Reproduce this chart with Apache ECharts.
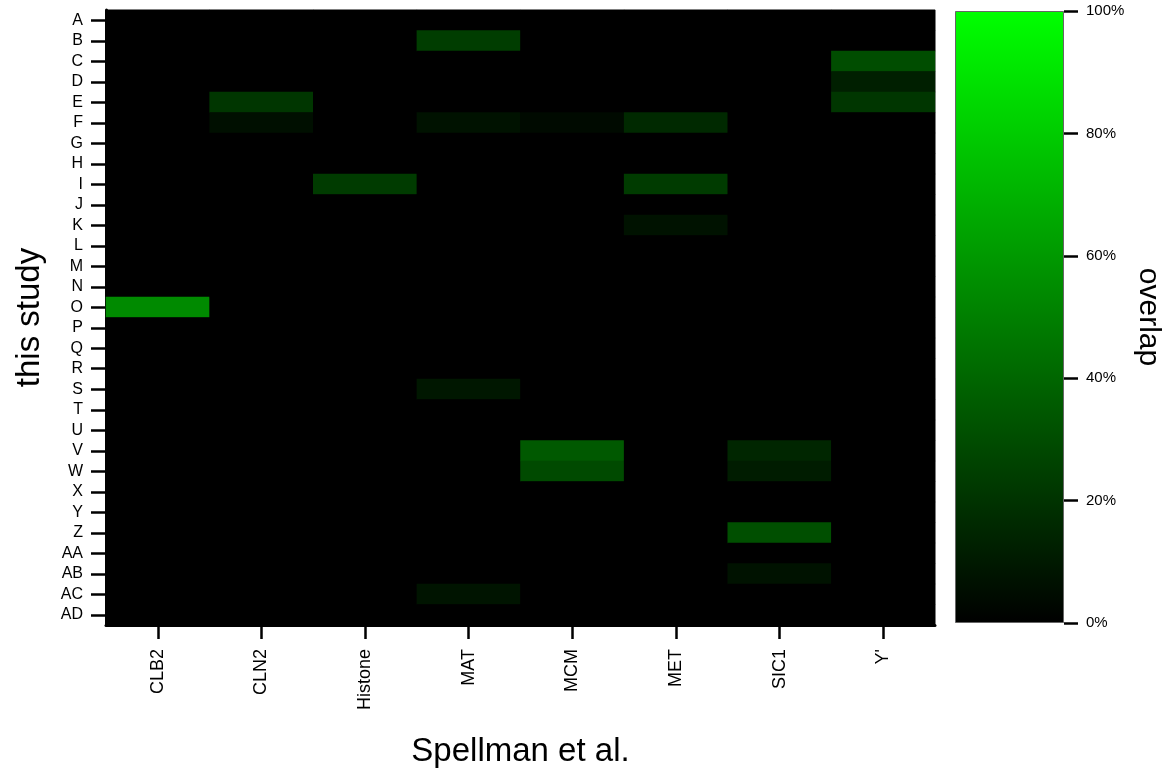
<!DOCTYPE html>
<html>
<head>
<meta charset="utf-8">
<script src="https://cdn.jsdelivr.net/npm/echarts@6/dist/echarts.min.js"></script>
<style>
  html, body { margin: 0; padding: 0; background: #fff; }
  #chart { width: 1168px; height: 775px; }
</style>
</head>
<body>
<div id="chart"></div>
<script>
// columns (Spellman et al.) and rows (this study)
const clusters = ['CLB2', 'CLN2', 'Histone', 'MAT', 'MCM', 'MET', 'SIC1', "Y'"];
const studyRows = ['A', 'B', 'C', 'D', 'E', 'F', 'G', 'H', 'I', 'J', 'K', 'L', 'M', 'N', 'O',
    'P', 'Q', 'R', 'S', 'T', 'U', 'V', 'W', 'X', 'Y', 'Z', 'AA', 'AB', 'AC', 'AD'];

// non-zero overlaps in %, everything else is 0
const overlapCells = [
    ['CLB2', 'O', 54],
    ['CLN2', 'E', 21], ['CLN2', 'F', 6],
    ['Histone', 'I', 23],
    ['MAT', 'B', 24], ['MAT', 'F', 7], ['MAT', 'S', 9], ['MAT', 'AC', 8],
    ['MCM', 'F', 4], ['MCM', 'V', 35], ['MCM', 'W', 29],
    ['MET', 'F', 16], ['MET', 'I', 23], ['MET', 'K', 7],
    ['SIC1', 'V', 15], ['SIC1', 'W', 11], ['SIC1', 'Z', 31], ['SIC1', 'AB', 7],
    ["Y'", 'C', 30], ["Y'", 'D', 12], ["Y'", 'E', 21]
];

const colorbarTicks = [0, 20, 40, 60, 80, 100];

document.addEventListener('DOMContentLoaded', () => {
    const myChart = echarts.init(document.getElementById('chart'));

    // full grid, zeros where nothing overlaps
    const data = [];
    clusters.forEach((c, ci) => {
        studyRows.forEach((r, ri) => {
            const hit = overlapCells.find(d => d[0] === c && d[1] === r);
            data.push([ci, ri, hit ? hit[2] : 0]);
        });
    });

    const font = 'Liberation Sans, Arial, sans-serif';
    const tickStyle = { color: '#000', width: 2.5 };

    const option = {
        animation: false,
        textStyle: { fontFamily: font },
        grid: [
            { left: 106, top: 10, width: 829, height: 615, show: true, backgroundColor: '#000', borderColor: '#555', borderWidth: 1 },
            { left: 955, top: 11, width: 109, height: 612 }
        ],
        visualMap: {
            show: false,
            seriesIndex: 0,
            min: 0,
            max: 100,
            inRange: { color: ['#000000', '#00ff00'] }
        },
        xAxis: [
            {
                gridIndex: 0,
                type: 'category',
                data: clusters,
                name: 'Spellman et al.',
                nameLocation: 'middle',
                nameGap: 110,
                nameTextStyle: { fontSize: 33, color: '#000' },
                axisLine: { lineStyle: { color: '#000', width: 3 } },
                axisTick: { show: true, alignWithLabel: true, length: 14, lineStyle: tickStyle },
                axisLabel: { rotate: 90, fontSize: 18, color: '#000', margin: 24 },
                splitLine: { show: false },
                splitArea: { show: false }
            },
            {
                gridIndex: 1,
                type: 'category',
                data: ['overlap'],
                show: false
            }
        ],
        yAxis: [
            {
                gridIndex: 0,
                type: 'category',
                data: studyRows,
                inverse: true,
                name: 'this study',
                nameLocation: 'middle',
                nameGap: 60,
                nameTextStyle: { fontSize: 33, color: '#000' },
                axisLine: { lineStyle: { color: '#000', width: 3 } },
                axisTick: { show: true, alignWithLabel: true, interval: 0, length: 15, lineStyle: tickStyle },
                axisLabel: { fontSize: 16, color: '#000', margin: 23, interval: 0 },
                splitLine: { show: false },
                splitArea: { show: false }
            },
            {
                gridIndex: 1,
                type: 'value',
                position: 'right',
                min: colorbarTicks[0],
                max: colorbarTicks[colorbarTicks.length - 1],
                interval: 20,
                name: 'overlap',
                nameLocation: 'middle',
                nameRotate: -90,
                nameGap: 69,
                nameTextStyle: { fontSize: 30, color: '#000' },
                axisLine: { show: false },
                axisTick: { show: true, length: 14, lineStyle: tickStyle },
                axisLabel: { fontSize: 15, color: '#000', margin: 22, formatter: '{value}%' },
                splitLine: { show: false }
            }
        ],
        series: [
            {
                type: 'heatmap',
                xAxisIndex: 0,
                yAxisIndex: 0,
                data: data,
                itemStyle: { borderWidth: 0 }
            },
            {
                // colour bar
                type: 'bar',
                xAxisIndex: 1,
                yAxisIndex: 1,
                barWidth: '100%',
                data: [colorbarTicks[colorbarTicks.length - 1]],
                itemStyle: {
                    borderColor: '#666',
                    borderWidth: 1,
                    color: new echarts.graphic.LinearGradient(0, 0, 0, 1, [
                        { offset: 0, color: '#00ff00' },
                        { offset: 1, color: '#000000' }
                    ])
                },
                silent: true
            }
        ]
    };
    myChart.setOption(option);
    window.addEventListener('resize', () => myChart.resize());
});
</script>
</body>
</html>
